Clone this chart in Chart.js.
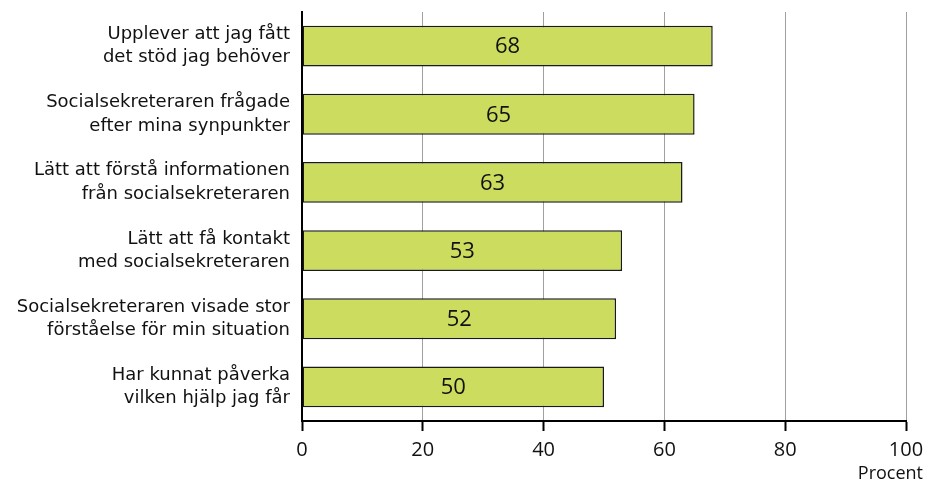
<!DOCTYPE html>
<html><head><meta charset="utf-8">
<script src="https://cdn.jsdelivr.net/npm/chart.js@4/dist/chart.umd.min.js"></script>
<style>html,body{margin:0;padding:0;background:#fff}#wrap{width:926px;height:482px}</style>
</head><body><div id="wrap"><canvas id="c" width="926" height="482"></canvas></div>
<script>
const categories = [
  ["Upplever att jag fått", "det stöd jag behöver"],
  ["Socialsekreteraren frågade", "efter mina synpunkter"],
  ["Lätt att förstå informationen", "från socialsekreteraren"],
  ["Lätt att få kontakt", "med socialsekreteraren"],
  ["Socialsekreteraren visade stor", "förståelse för min situation"],
  ["Har kunnat påverka", "vilken hjälp jag får"]
];
const values = [68, 65, 63, 53, 52, 50];
const xTicks = [0, 20, 40, 60, 80, 100];
const axisTitle = "Procent";

const FONT = "'Open Sans', 'Liberation Sans', sans-serif";
const LABEL_FONT = "'DejaVu Sans', 'Open Sans', sans-serif";

const labelPlugin = {
  id: 'barLabels',
  afterDatasetsDraw(chart) {
    const ctx = chart.ctx;
    const meta = chart.getDatasetMeta(0);
    ctx.save();
    ctx.font = "22px " + FONT;
    ctx.fillStyle = "#111";
    ctx.textAlign = "center";
    ctx.textBaseline = "middle";
    meta.data.forEach((bar, i) => {
      const x = (bar.x + bar.base) / 2;
      ctx.fillText(String(values[i]), x, bar.y + 1);
    });
    ctx.restore();
  },
  afterDraw(chart) {
    const ctx = chart.ctx;
    const xs = chart.scales.x;
    ctx.save();
    ctx.font = "18px " + FONT;
    ctx.fillStyle = "#111";
    ctx.textAlign = "right";
    ctx.textBaseline = "middle";
    ctx.fillText(axisTitle, chart.width - 3, xs.bottom - 8);
    ctx.restore();
  }
};

new Chart(document.getElementById('c'), {
  type: 'bar',
  data: {
    labels: categories,
    datasets: [{
      data: values,
      backgroundColor: '#cbdc5f',
      borderColor: '#1a1a1a',
      borderWidth: 1.5,
      borderSkipped: false,
      barPercentage: 0.6,
      categoryPercentage: 1.0
    }]
  },
  options: {
    indexAxis: 'y',
    responsive: false,
    animation: false,
    layout: { padding: { top: 12, right: 20, left: 0, bottom: 0 } },
    plugins: { legend: { display: false }, tooltip: { enabled: false } },
    scales: {
      x: {
        min: 0, max: 100,
        afterBuildTicks(scale) { scale.ticks = xTicks.map(v => ({ value: v })); },
        afterFit(scale) { scale.height = 61; scale.paddingLeft = 0; scale.paddingRight = 0; },
        grid: { color: '#a0a0a0', lineWidth: 1, tickLength: 10, tickColor: '#000', tickWidth: 2 },
        border: { color: '#000', width: 2 },
        ticks: { color: '#111', font: { family: FONT, size: 20 }, padding: 7 },
        title: { display: false, text: axisTitle }
      },
      y: {
        afterFit(scale) { scale.width = 302; scale.paddingTop = 0; scale.paddingBottom = 0; },
        grid: { drawOnChartArea: false, drawTicks: false },
        border: { color: '#000', width: 2 },
        ticks: { color: '#111', font: { family: LABEL_FONT, size: 18, lineHeight: 1.3 }, padding: 12 }
      }
    }
  },
  plugins: [labelPlugin]
});
</script>
</body></html>
